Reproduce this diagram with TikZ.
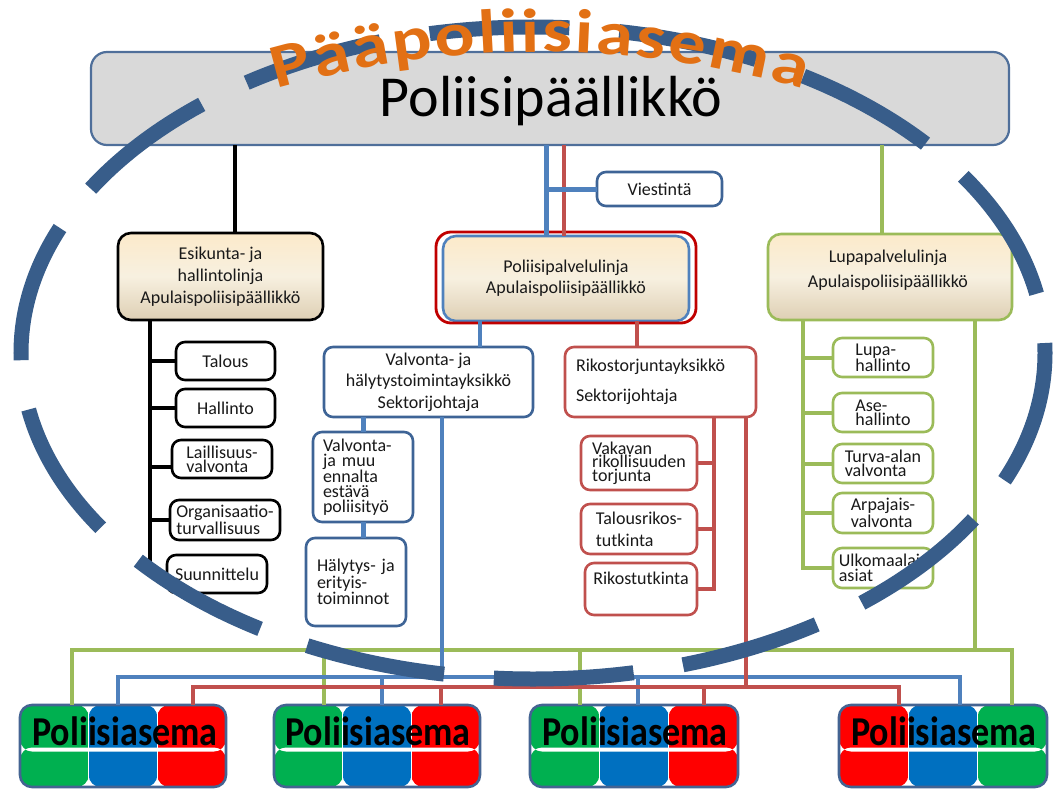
\documentclass[tikz,border=0pt]{standalone}
\usepackage{fontspec}
\usepackage{graphicx}
\setmainfont{Carlito}
\usetikzlibrary{calc}

% palette
\definecolor{frameblue}{RGB}{62,100,150}
\definecolor{lineblue}{RGB}{79,129,189}
\definecolor{linered}{RGB}{192,80,77}
\definecolor{linegreen}{RGB}{155,187,89}
\definecolor{ringblue}{RGB}{56,93,138}
\definecolor{deepred}{RGB}{192,0,0}
\definecolor{chiefgray}{RGB}{217,217,217}
\definecolor{chiefframe}{RGB}{79,111,154}
\definecolor{paframe}{RGB}{68,100,146}
\definecolor{creamtop}{RGB}{252,234,202}
\definecolor{creammid}{RGB}{247,240,224}
\definecolor{creambot}{RGB}{222,207,180}
\definecolor{stgreen}{RGB}{0,176,80}
\definecolor{stblue}{RGB}{0,112,192}
\definecolor{stred}{RGB}{255,0,0}
\definecolor{titleorange}{RGB}{226,112,20}
\definecolor{txt}{RGB}{25,25,25}

\newcommand\ttlfmt{\fontsize{62}{62}\selectfont\bfseries}

\tikzset{
  every node/.style={inner sep=0pt, outer sep=0pt, text=txt},
  small/.style={font=\fontsize{18}{#1}\selectfont},
  linebox/.style={rounded corners=13pt, line width=2.6pt, top color=creamtop,
    bottom color=creambot, middle color=creammid, align=center},
  unitbox/.style={draw, fill=white, rounded corners=9pt, line width=2.6pt, align=left},
  conn/.style={line width=4pt},
  blk/.style={conn, draw=black},
  gline/.style={conn, draw=linegreen},
  bline/.style={conn, draw=lineblue},
  rline/.style={conn, draw=linered},
  ring/.style={draw=ringblue, line width=15pt, dash pattern=on 140pt off 50pt, dash phase=130pt},
  station/.style n args={3}{draw=paframe, line width=2.6pt, rounded corners=12pt,
    minimum height=82pt,
    path picture={
      \fill[#1] (path picture bounding box.south west) rectangle
        ($(path picture bounding box.north west)!1/3!(path picture bounding box.north east)$);
      \fill[#2] ($(path picture bounding box.south west)!1/3!(path picture bounding box.south east)$) rectangle
        ($(path picture bounding box.north west)!2/3!(path picture bounding box.north east)$);
      \fill[#3] ($(path picture bounding box.south west)!2/3!(path picture bounding box.south east)$) rectangle
        (path picture bounding box.north east);
      \draw[white, line width=1.2pt]
        ($(path picture bounding box.south west)!1/3!(path picture bounding box.south east)$) --
        ($(path picture bounding box.north west)!1/3!(path picture bounding box.north east)$)
        ($(path picture bounding box.south west)!2/3!(path picture bounding box.south east)$) --
        ($(path picture bounding box.north west)!2/3!(path picture bounding box.north east)$);
      \fill[white] ($(path picture bounding box.west)+(0pt,-1.5pt)$) rectangle
        ($(path picture bounding box.east)+(0pt,-5.5pt)$);
    }},
  stationtxt/.style={anchor=base, text=black, font=\fontsize{41}{41}\selectfont\bfseries},
  titlechar/.style={anchor=base, font=\ttlfmt, text=titleorange},
}

\begin{document}
\begin{tikzpicture}[x=1pt,y=1pt]
\useasboundingbox (0,0) rectangle (1055,-789);

% ---- chief of police ----
\node[draw=chiefframe, fill=chiefgray, line width=2.2pt, rounded corners=16pt,
      minimum width=918pt, minimum height=93pt] (chief) at (550,-98.5) {};
\node[anchor=base, text=black, font=\fontsize{58}{60}\selectfont] (chieftxt) at (551,-117) {Poliisipäällikkö};

% ---- three lines ----
\node[linebox, draw=black, small=22, minimum width=205pt, minimum height=87pt] (esik) at (220.5,-276.5)
  {Esikunta- ja\\hallintolinja\\Apulaispoliisipäällikkö};
\node[linebox, draw=lineblue, small=21, minimum width=246pt, minimum height=85pt] (pol) at (566,-278.5)
  {Poliisipalvelulinja\\Apulaispoliisipäällikkö};
\node[draw=deepred, line width=2.8pt, rounded corners=15pt, minimum width=260pt, minimum height=91pt] (polring) at (566,-277.5) {};
\node[linebox, draw=linegreen, minimum width=244pt, minimum height=86pt] (lupa) at (890,-277) {};
\node[small=25, align=center] (lupatxt) at (888,-270) {Lupapalvelulinja\\Apulaispoliisipäällikkö};

\node[unitbox, draw=frameblue, small=22, minimum width=125pt, minimum height=34pt] (viest) at (659.5,-189) {Viestintä};

% ---- staff units ----
\node[unitbox, draw=black, small=22, minimum width=99pt, minimum height=38pt] (talous) at (225.5,-361) {Talous};
\node[unitbox, draw=black, small=22, minimum width=99pt, minimum height=38pt] (hallinto) at (225.5,-408) {Hallinto};
\node[unitbox, draw=black, small=14, minimum width=100pt, minimum height=38pt] (laill) at (222,-459) {Laillisuus-\\valvonta};
\node[unitbox, draw=black, small=14, minimum width=110pt, minimum height=40pt] (org) at (225,-520) {Organisaatio-\\turvallisuus};
\node[unitbox, draw=black, small=22, minimum width=100pt, minimum height=38pt] (suun) at (217,-574) {Suunnittelu};

% ---- patrol and alarm unit ----
\node[unitbox, draw=frameblue, small=21.5, align=center, minimum width=209pt, minimum height=70pt] (valv) at (428.5,-382)
  {Valvonta- ja\\hälytystoimintayksikkö\\Sektorijohtaja};
\node[unitbox, draw=frameblue, small=15, inner xsep=10pt, text width=80pt, minimum height=90pt] (vm) at (363,-477)
  {Valvonta-\\ja muu\\ennalta\\estävä\\poliisityö};
\node[unitbox, draw=frameblue, small=14.5, inner xsep=11pt, text width=78pt, minimum height=88pt] (hal) at (356,-582)
  {Hälytys- ja\\erityis-\\toiminnot};

% ---- crime prevention unit ----
\node[unitbox, draw=linered, small=30, inner xsep=11pt, text width=169pt, minimum height=70pt] (rikos) at (660.5,-382)
  {Rikostorjuntayksikkö\\Sektorijohtaja};
\node[unitbox, draw=linered, small=12, minimum width=116pt, minimum height=54pt] (vak) at (639,-463)
  {Vakavan\\rikollisuuden\\torjunta};
\node[unitbox, draw=linered, small=22, minimum width=116pt, minimum height=50pt] (tal) at (639,-529)
  {Talousrikos-\\tutkinta};
\node[unitbox, draw=linered, small=22, minimum width=112pt, minimum height=52pt] (rik) at (641,-589)
  {Rikostutkinta\\\mbox{}};

% ---- permit units ----
\node[unitbox, draw=linegreen, small=11, minimum width=100pt, minimum height=39pt] (lh) at (883,-357.5) {Lupa-\\hallinto};
\node[unitbox, draw=linegreen, small=11, minimum width=100pt, minimum height=39pt] (ah) at (883,-412.5) {Ase-\\hallinto};
\node[unitbox, draw=linegreen, small=14, minimum width=100pt, minimum height=39pt] (tv) at (883,-463.5) {Turva-alan\\valvonta};
\node[unitbox, draw=linegreen, small=13, minimum width=100pt, minimum height=40pt] (av) at (883,-513) {Arpajais-\\valvonta};
\node[unitbox, draw=linegreen, small=15, minimum width=100pt, minimum height=40pt] (ua) at (883,-568) {Ulkomaalais\\asiat};

% ---- local stations ----
\node[station={stgreen}{stblue}{stred}, minimum width=206pt] (pa1) at (123,-746) {};
\node[station={stgreen}{stblue}{stred}, minimum width=206pt] (pa2) at (377,-746) {};
\node[station={stgreen}{stblue}{stred}, minimum width=208pt] (pa3) at (634,-746) {};
\node[station={stred}{stblue}{stgreen}, minimum width=208pt] (pa4) at (943,-746) {};
\node[stationtxt] (pa1t) at (125,-745) {\scalebox{0.88}[1]{Poliisiasema}};
\node[stationtxt] (pa2t) at (378,-745) {\scalebox{0.88}[1]{Poliisiasema}};
\node[stationtxt] (pa3t) at (635,-745) {\scalebox{0.88}[1]{Poliisiasema}};
\node[stationtxt] (pa4t) at (944,-745) {\scalebox{0.88}[1]{Poliisiasema}};

% ---- connector anchor points ----
\coordinate (eTop) at ($(esik.north west)!0.571!(esik.north east)$);
\coordinate (eT)   at ($(esik.south west)!0.156!(esik.south east)$);
\coordinate (pB)   at ($(pol.north west)!0.419!(pol.north east)$);
\coordinate (pR)   at ($(pol.north west)!0.492!(pol.north east)$);
\coordinate (pBd)  at ($(pol.south west)!0.15!(pol.south east)$);
\coordinate (pRd)  at ($(pol.south west)!0.79!(pol.south east)$);
\coordinate (lTop) at ($(lupa.north west)!0.467!(lupa.north east)$);
\coordinate (lT)   at ($(lupa.south west)!0.143!(lupa.south east)$);
\coordinate (lR)   at ($(lupa.south west)!0.848!(lupa.south east)$);
\coordinate (vL)   at ($(valv.south west)!0.565!(valv.south east)$);
\coordinate (rB)   at ($(rikos.south west)!0.78!(rikos.south east)$);
\coordinate (rL)   at ($(rikos.south west)!0.948!(rikos.south east)$);
\coordinate (gBus) at (0,-650);
\coordinate (bBus) at (0,-677);
\coordinate (rBus) at (0,-687);
\coordinate (pa1g) at ($(pa1.north west)!0.252!(pa1.north east)$);
\coordinate (pa1b) at ($(pa1.north west)!0.476!(pa1.north east)$);
\coordinate (pa1r) at ($(pa1.north west)!0.84!(pa1.north east)$);
\coordinate (pa2g) at ($(pa2.north west)!0.243!(pa2.north east)$);
\coordinate (pa2b) at ($(pa2.north west)!0.524!(pa2.north east)$);
\coordinate (pa2r) at ($(pa2.north west)!0.81!(pa2.north east)$);
\coordinate (pa3g) at ($(pa3.north west)!0.24!(pa3.north east)$);
\coordinate (pa3b) at ($(pa3.north west)!0.52!(pa3.north east)$);
\coordinate (pa3r) at ($(pa3.north west)!0.837!(pa3.north east)$);
\coordinate (pa4r) at ($(pa4.north west)!0.29!(pa4.north east)$);
\coordinate (pa4b) at ($(pa4.north west)!0.58!(pa4.north east)$);
\coordinate (pa4g) at ($(pa4.north west)!0.83!(pa4.north east)$);

% ---- connectors from the chief ----
\draw[blk] (eTop) -- (eTop |- chief.south);
\draw[bline, line width=5pt] (pB) -- (pB |- chief.south);
\draw[rline] (pR) -- (pR |- chief.south);
\draw[gline] (lTop) -- (lTop |- chief.south);
\draw[bline, line width=5pt] (pB |- viest.west) -- (viest.west);

% staff tree
\draw[blk] (eT) -- (eT |- suun.west);
\draw[blk] (eT |- talous.west) -- (talous.west);
\draw[blk] (eT |- hallinto.west) -- (hallinto.west);
\draw[blk] ($(eT |- laill.west)+(0,-8)$) -- ($(laill.west)+(0,-8)$);
\draw[blk] (eT |- org.west) -- (org.west);
\draw[blk] (eT |- suun.west) -- (suun.west);

% patrol tree
\draw[bline] (pBd) -- (pBd |- valv.north);
\draw[bline, line width=5pt] (vm.north) -- (vm.north |- valv.south);
\draw[bline, line width=5pt] (vm.south) -- (vm.south |- hal.north);

% crime tree
\draw[rline] (pRd) -- (pRd |- rikos.north);
\draw[rline] (rB) -- (rB |- rik.east) -- (rik.east);
\draw[rline] (rB |- vak.east) -- (vak.east);
\draw[rline] (rB |- tal.east) -- (tal.east);

% permit tree
\draw[gline] (lT) -- (lT |- ua.west) -- (ua.west);
\draw[gline] (lT |- lh.west) -- (lh.west);
\draw[gline] (lT |- ah.west) -- (ah.west);
\draw[gline] (lT |- tv.west) -- (tv.west);
\draw[gline] (lT |- av.west) -- (av.west);

% buses to the local stations
\draw[gline] (pa1g) -- (pa1g |- gBus) -- (pa4g |- gBus) -- (pa4g);
\draw[gline] (pa2g) -- (pa2g |- gBus);
\draw[gline] (pa3g) -- (pa3g |- gBus);
\draw[gline] (lR) -- (lR |- gBus);
\draw[bline] (pa1b) -- (pa1b |- bBus) -- (pa4b |- bBus) -- (pa4b);
\draw[bline] (pa2b) -- (pa2b |- bBus);
\draw[bline] (pa3b) -- (pa3b |- bBus);
\draw[bline] (vL) -- (vL |- bBus);
\draw[rline] (pa1r) -- (pa1r |- rBus) -- (pa4r |- rBus) -- (pa4r);
\draw[rline] (pa2r) -- (pa2r |- rBus);
\draw[rline] (pa3r) -- (pa3r |- rBus);
\draw[rline] (rL) -- (rL |- rBus);

% ---- dashed ring of the main station ----
\draw[ring] (533,-353) ellipse [x radius=512, y radius=326];

% ---- arched title, one widened letter at a time ----
\foreach \ch/\ang [count=\k] in {P/104.82, ä/102.37, ä/100.01, p/97.56, o/95.00, l/93.10, i/91.84,
    i/90.59, s/88.99, i/87.40, a/85.59, s/83.44, e/81.27, m/78.18, a/75.11} {
  \node[titlechar, rotate=\ang-90] (ttl\k) at ([shift={(\ang:957)}]540,-1009) {\scalebox{1.2}[1]{\ch}};
}
\end{tikzpicture}
\end{document}
